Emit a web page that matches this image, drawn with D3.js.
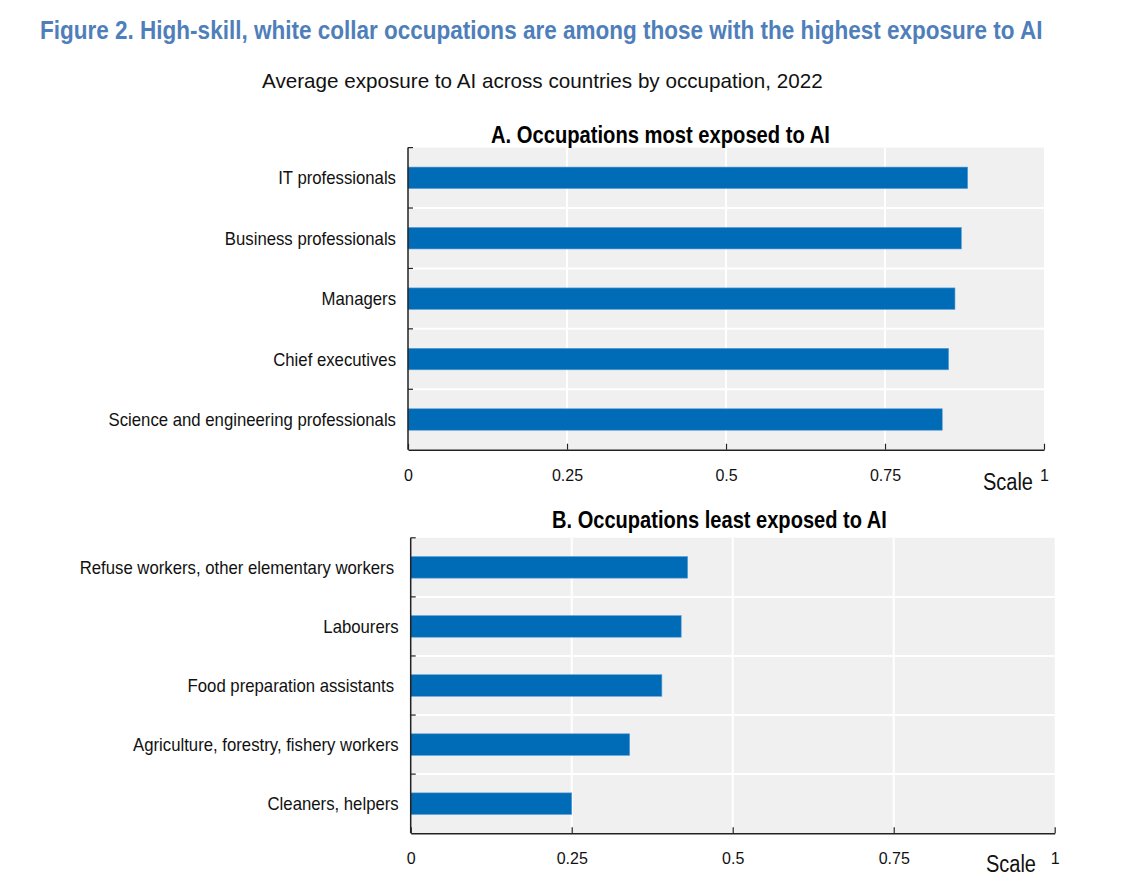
<!DOCTYPE html>
<html>
<head>
<meta charset="utf-8">
<script src="https://cdn.jsdelivr.net/npm/d3@7"></script>
<style>
  body { margin: 0; background: #ffffff; }
  svg { display: block; }
  text { font-family: "Liberation Sans", Arial, sans-serif; }
</style>
</head>
<body>
<svg id="chart" width="1132" height="893"></svg>
<script>
// ---- data ----
const titleText = "Figure 2. High-skill, white collar occupations are among those with the highest exposure to AI";
const subtitleText = "Average exposure to AI across countries by occupation, 2022";
const panelATitle = "A. Occupations most exposed to AI";
const panelBTitle = "B. Occupations least exposed to AI";
const categoriesA = ["IT professionals", "Business professionals", "Managers", "Chief executives", "Science and engineering professionals"];
const valuesA = [0.88, 0.87, 0.86, 0.85, 0.84];
const categoriesB = ["Refuse workers, other elementary workers ", "Labourers", "Food preparation assistants ", "Agriculture, forestry, fishery workers", "Cleaners, helpers"];
const valuesB = [0.43, 0.42, 0.39, 0.34, 0.25];
const tickValues = [0, 0.25, 0.5, 0.75, 1];
const axisUnitLabel = "Scale";

// ---- drawing ----
const svg = d3.select("#chart");
const BAR = "#006bb6", BG = "#f0f0f0", AXIS = "#222";

// fit a text to a target width by horizontal scaling (keeps glyph height)
function fitText(sel, x, y, width) {
  const natural = sel.node().getComputedTextLength();
  sel.attr("transform", `translate(${x},${y}) scale(${width / natural},1)`);
}

const t = svg.append("text")
  .style("font-weight", "bold").style("font-size", "25.5px")
  .attr("fill", "#4f7fba")
  .text(titleText);
fitText(t, 40, 38.5, 1003);

const st = svg.append("text")
  .style("font-size", "21px").attr("fill", "#111")
  .text(subtitleText);
fitText(st, 262, 88.3, 561);

function panel(cfg) {
  const { cats, vals, x0, x1, y0, y1, title, titleX, titleW, titleY, barFrac, unitDx, unitDy } = cfg;
  const g = svg.append("g");
  const x = d3.scaleLinear().domain([0, 1]).range([x0, x1]);
  const y = d3.scaleBand().domain(cats).range([y0, y1]).padding(0);

  g.append("rect").attr("x", x0).attr("y", y0)
    .attr("width", x1 - x0).attr("height", y1 - y0).attr("fill", BG);

  // vertical gridlines
  g.selectAll(".vg").data(tickValues.filter(t => t > 0 && t < 1)).join("line")
    .attr("x1", d => x(d)).attr("x2", d => x(d))
    .attr("y1", y0).attr("y2", y1)
    .attr("stroke", "#fff").attr("stroke-width", 2);
  // horizontal gridlines between categories
  g.selectAll(".hg").data(cats.slice(1)).join("line")
    .attr("x1", x0).attr("x2", x1)
    .attr("y1", d => y(d)).attr("y2", d => y(d))
    .attr("stroke", "#fff").attr("stroke-width", 2);

  const bh = y.bandwidth() * barFrac;
  g.selectAll(".bar").data(vals).join("rect")
    .attr("x", x(0))
    .attr("y", (d, i) => y(cats[i]) + (y.bandwidth() - bh) / 2)
    .attr("width", d => x(d) - x(0))
    .attr("height", bh)
    .attr("fill", BAR)
    .attr("stroke", "#5b9bd5").attr("stroke-width", 0.6);

  // bottom axis
  const ax = g.append("g").attr("transform", `translate(0,${y1})`)
    .call(d3.axisBottom(x).tickValues(tickValues).tickFormat(d3.format("")).tickSizeInner(-6).tickSizeOuter(0).tickPadding(19.5));
  ax.select(".domain").attr("stroke", AXIS).attr("stroke-width", 1.5);
  ax.selectAll(".tick line").attr("stroke", AXIS).attr("stroke-width", 1.2);
  ax.selectAll(".tick text").style("font-family", "'Liberation Sans', Arial, sans-serif")
    .style("font-size", "16px").attr("fill", "#111");

  // left axis line + boundary ticks
  g.append("line").attr("x1", x0).attr("x2", x0).attr("y1", y0).attr("y2", y1)
    .attr("stroke", AXIS).attr("stroke-width", 1.5);
  const bounds = cats.map(c => y(c));
  g.selectAll(".lt").data(bounds).join("line")
    .attr("x1", x0).attr("x2", x0 + 5)
    .attr("y1", d => d).attr("y2", d => d)
    .attr("stroke", AXIS).attr("stroke-width", 1.2);

  // category labels (slightly condensed)
  g.selectAll(".cl").data(cats).join("text")
    .attr("transform", d => `translate(${x0 - 12},${y(d) + y.bandwidth() / 2}) scale(0.93,1)`)
    .attr("dy", "0.36em")
    .attr("text-anchor", "end")
    .style("white-space", "pre")
    .style("font-size", "18px").attr("fill", "#111")
    .text(d => d);

  // unit label
  g.append("text")
    .attr("transform", `translate(${x1 - unitDx},${y1 + unitDy}) scale(0.87,1)`)
    .attr("text-anchor", "end")
    .style("font-size", "23px").attr("fill", "#111")
    .text(axisUnitLabel);

  // panel title
  const pt = g.append("text")
    .style("font-weight", "bold").style("font-size", "23px").attr("fill", "#000")
    .text(title);
  fitText(pt, titleX, titleY, titleW);
}

panel({ cats: categoriesA, vals: valuesA, x0: 408, x1: 1044, y0: 147.6, y1: 449.7,
        title: panelATitle, titleX: 491, titleW: 339, titleY: 143, barFrac: 0.355, unitDx: 11, unitDy: 40.5 });
panel({ cats: categoriesB, vals: valuesB, x0: 410.7, x1: 1054.7, y0: 537.8, y1: 833.2,
        title: panelBTitle, titleX: 552, titleW: 335, titleY: 528, barFrac: 0.365, unitDx: 18.7, unitDy: 38.5 });
</script>
</body>
</html>
